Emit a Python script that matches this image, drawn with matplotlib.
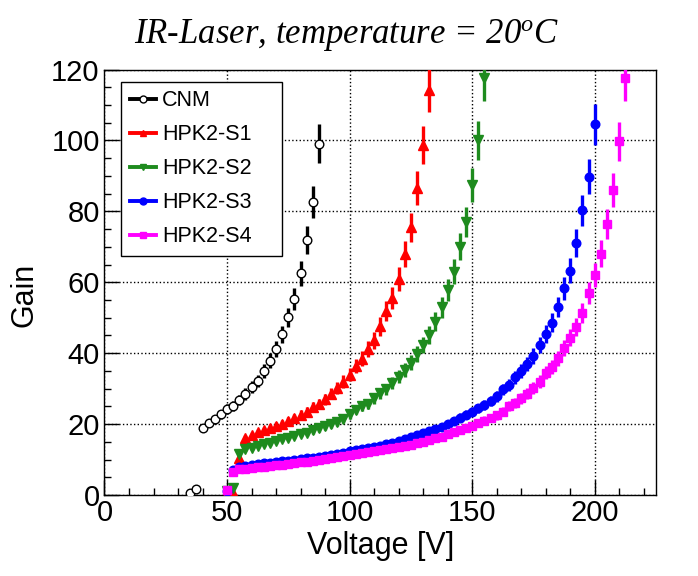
import matplotlib
matplotlib.use("Agg")
import matplotlib.pyplot as plt
from matplotlib.lines import Line2D
from matplotlib.ticker import MultipleLocator

plt.rcParams["font.family"] = ["Liberation Sans", "DejaVu Sans"]
plt.rcParams["mathtext.fontset"] = "custom"
plt.rcParams["mathtext.it"] = "Liberation Serif:italic"
plt.rcParams["mathtext.rm"] = "Liberation Serif:italic"

# data (voltage [V], gain)
cnm_v = [35, 37.5, 40, 42.5, 45, 47.5, 50, 52.5, 55, 57.5, 60, 62.5, 65, 67.5,
         70, 72.5, 75, 77.5, 80, 82.5, 85, 87.5]
cnm_g = [0.5, 1.6, 18.8, 20.2, 21.3, 22.8, 24.2, 25.2, 26.8, 28.5, 30.4, 32.2,
         35.0, 37.9, 41.3, 45.3, 50.1, 55.3, 62.5, 71.8, 82.7, 99.1]

s1_v = [50, 52.5, 55, 57.5, 60, 62.5, 65, 67.5, 70, 72.5, 75, 77.5, 80, 82.5,
        85, 87.5, 90, 92.5, 95, 97.5, 100, 102.5, 105, 107.5, 110, 112.5, 115,
        117.5, 120, 122.5, 125, 127.5, 130, 132.5]
s1_g = [0.4, 0.5, 10.5, 16.0, 16.9, 17.7, 18.3, 18.9, 19.5, 20.1, 20.9, 21.6,
        22.6, 23.5, 24.8, 25.8, 27.0, 28.6, 30.2, 32.0, 33.9, 36.4, 38.5, 41.1,
        43.7, 47.6, 51.9, 55.5, 61.0, 67.9, 75.5, 86.5, 98.7, 114.2]

s2_v = [50, 52.5, 55, 57.5, 60, 62.5, 65, 67.5, 70, 72.5, 75, 77.5, 80, 82.5,
        85, 87.5, 90, 92.5, 95, 97.5, 100, 102.5, 105, 107.5, 110, 112.5, 115,
        117.5, 120, 122.5, 125, 127.5, 130, 132.5, 135, 137.5, 140, 142.5, 145,
        147.5, 150, 152.5, 155]
s2_g = [1.0, 2.0, 11.5, 13.0, 13.4, 13.9, 14.4, 14.7, 15.3, 15.7, 16.1, 16.7,
        17.2, 17.6, 18.3, 18.8, 19.5, 19.9, 20.7, 21.4, 22.8, 24.1, 25.0, 25.8,
        27.3, 28.7, 29.8, 31.5, 33.4, 35.2, 37.3, 39.8, 42.3, 45.1, 48.9, 52.9,
        57.8, 63.0, 70.0, 77.1, 87.4, 100.1, 117.5]

s3_v = [50, 52.5, 55, 57.5, 60, 62.5, 65, 67.5, 70, 72.5, 75, 77.5, 80, 82.5,
        85, 87.5, 90, 92.5, 95, 97.5, 100, 102.5, 105, 107.5, 110, 112.5, 115,
        117.5, 120, 122.5, 125, 127.5, 130, 132.5, 135, 137.5, 140, 142.5, 145,
        147.5, 150, 152.5, 155, 157.5, 160, 162.5, 165, 167.5, 170, 172.5, 175,
        177.5, 180, 182.5, 185, 187.5, 190, 192.5, 195, 197.5, 200]
s3_g = [1.0, 7.0, 8.0, 8.3, 8.5, 8.7, 8.9, 9.1, 9.3, 9.5, 9.7, 9.9, 10.1, 10.3,
        10.5, 10.8, 11.0, 11.3, 11.6, 11.9, 12.3, 12.6, 12.9, 13.2, 13.5, 13.9,
        14.3, 14.8, 15.3, 15.8, 16.4, 16.9, 17.4, 18.0, 18.6, 19.3, 20.0, 20.8,
        21.8, 22.6, 23.5, 24.4, 25.4, 26.6, 27.9, 29.8, 31.0, 33.2, 35.0, 36.9,
        39.2, 42.3, 45.4, 48.6, 53.0, 58.3, 63.3, 71.0, 80.3, 89.7, 104.5]

s4_v = [50, 52.5, 55, 57.5, 60, 62.5, 65, 67.5, 70, 72.5, 75, 77.5, 80, 82.5,
        85, 87.5, 90, 92.5, 95, 97.5, 100, 102.5, 105, 107.5, 110, 112.5, 115,
        117.5, 120, 122.5, 125, 127.5, 130, 132.5, 135, 137.5, 140, 142.5, 145,
        147.5, 150, 152.5, 155, 157.5, 160, 162.5, 165, 167.5, 170, 172.5, 175,
        177.5, 180, 182.5, 185, 187.5, 190, 192.5, 195, 197.5, 200, 202.5, 205,
        207.5, 210, 212.5]
s4_g = [1.5, 6.6, 7.2, 7.4, 7.6, 7.8, 8.0, 8.2, 8.4, 8.6, 8.8, 9.0, 9.2, 9.4,
        9.6, 9.9, 10.1, 10.4, 10.7, 11.0, 11.3, 11.5, 11.8, 12.1, 12.4, 12.7,
        13.0, 13.3, 13.6, 13.9, 14.2, 14.6, 15.0, 15.5, 16.0, 16.5, 17.1, 17.7,
        18.3, 19.0, 19.6, 20.4, 21.0, 21.7, 22.5, 23.5, 25.0, 26.0, 27.3, 28.6,
        30.2, 32.0, 34.5, 36.2, 38.6, 41.4, 44.4, 47.4, 51.4, 56.9, 62.0, 68.1,
        76.4, 86.0, 99.8, 117.5]

# the gain uncertainty is roughly a fixed fraction of the gain
REL_ERR = 0.055

series = [
    ("CNM", cnm_v, cnm_g, "black", "o"),
    ("HPK2-S1", s1_v, s1_g, "#FF0000", "^"),
    ("HPK2-S2", s2_v, s2_g, "#1E8B1E", "v"),
    ("HPK2-S3", s3_v, s3_g, "#0000FF", "o"),
    ("HPK2-S4", s4_v, s4_g, "#FF00FF", "s"),
]
msizes = {"o": 6.2, "^": 6.8, "v": 6.8, "s": 5.8}

fig = plt.figure(figsize=(6.98, 5.76), dpi=100)
ax = fig.add_axes([0.1497, 0.1406, 0.7901, 0.7387])

handles = []
for i, (name, v, g, col, mk) in enumerate(series):
    err = [REL_ERR * x for x in g]
    open_marker = name == "CNM"
    ax.errorbar(v, g, yerr=err, fmt=mk, color=col, ecolor=col, elinewidth=2.4,
                capsize=0, ms=msizes[mk], mfc="white" if open_marker else col,
                mec=col, mew=1.0, zorder=3 + i, clip_on=True)
    handles.append(Line2D([], [], color=col, lw=2.8, marker=mk,
                          ms=5.0 if mk != "s" else 4.6,
                          mfc="white" if open_marker else col, mec=col, mew=1.0))

ax.set_xlim(0, 225)
ax.set_ylim(0, 120)
ax.xaxis.set_major_locator(MultipleLocator(50))
ax.xaxis.set_minor_locator(MultipleLocator(10))
ax.yaxis.set_major_locator(MultipleLocator(20))
ax.yaxis.set_minor_locator(MultipleLocator(5))
ax.tick_params(which="both", direction="in", top=False, right=False,
               labelsize=21, width=1.0, color="black")
ax.tick_params(which="major", length=10.8, pad=3)
ax.tick_params(which="minor", length=5.0)
ax.tick_params(axis="y", pad=3.5)
for sp in ax.spines.values():
    sp.set_linewidth(1.0)
ax.grid(True, which="major", ls=":", color="black", lw=1.0)
ax.set_axisbelow(True)

ax.set_xlabel("Voltage [V]", fontsize=22, labelpad=3)
ax.set_ylabel("Gain", fontsize=22)
ax.yaxis.set_label_coords(-0.118, 0.47)

leg = ax.legend(handles, [s[0] for s in series], loc="upper left",
                bbox_to_anchor=(0.0305, 0.5586, 0.2908, 0.4124), mode="expand",
                borderaxespad=0, fancybox=False, edgecolor="black",
                framealpha=1.0, fontsize=15.5, handlelength=1.2,
                handletextpad=0.3, labelspacing=0.6, borderpad=0.4)
leg.get_frame().set_linewidth(1.0)
leg.set_zorder(20)

fig.text(347 / 698, 1 - 43 / 576, r"IR-Laser, temperature = 20$^{o}$C",
         ha="center", va="baseline", fontsize=25,
         family="Liberation Serif", style="italic")

fig.savefig("out.png", dpi=100)
